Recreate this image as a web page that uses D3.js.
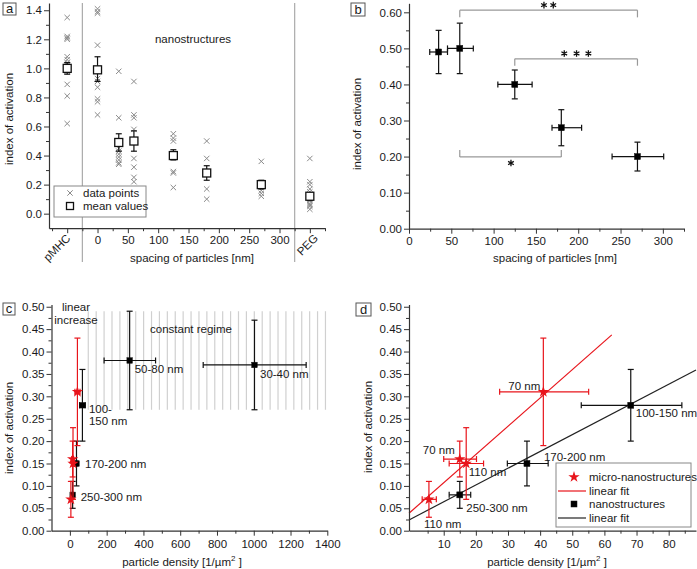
<!DOCTYPE html>
<html><head><meta charset="utf-8">
<script src="https://cdn.jsdelivr.net/npm/d3@7"></script>
<style>
body{margin:0;background:#fff;}
svg{display:block;}
</style></head><body>
<svg id="chart" width="697" height="569"></svg>
<script>
// ---------- Panel a data ----------
const groupsA = [-50, 0, 35, 60, 125, 180, 270, 350];
const groupNamesA = ["pMHC", "0", "35", "60", "125", "180", "270", "PEG"];
const ticksA = [-50, 0, 50, 100, 150, 200, 250, 300, 350];
const pointsA = [
  [1.35,1.22,1.21,1.20,1.08,1.06,1.04,1.02,1.00,0.98,0.89,0.81,0.62],
  [1.41,1.39,1.38,1.16,0.93,0.91,0.87,0.79,0.77,0.68],
  [0.98,0.66,0.45,0.43,0.41,0.39,0.37,0.35,0.34],
  [0.91,0.68,0.66,0.58,0.38,0.32,0.25,0.22],
  [0.55,0.52,0.50,0.29,0.28,0.18],
  [0.50,0.38,0.17,0.10],
  [0.36,0.21,0.19,0.16,0.14,0.12],
  [0.38,0.22,0.20,0.17,0.15,0.13,0.11,0.09,0.07,0.06,0.05,0.03]
];
const meanA  = [1.00,0.99,0.49,0.50,0.40,0.28,0.20,0.12];
const errHiA = [1.04,1.08,0.55,0.57,0.44,0.33,0.23,0.14];
const errLoA = [0.96,0.91,0.43,0.43,0.37,0.23,0.17,0.09];
const separatorsA = [-25, 325];

// ---------- Panel b data ----------
const spacingB = [35, 60, 125, 180, 270];
const meanB = [0.49, 0.50, 0.40, 0.28, 0.20];
const yHiB = [0.55, 0.57, 0.44, 0.33, 0.24];
const yLoB = [0.43, 0.43, 0.36, 0.23, 0.16];
const xLoB = [24.5, 45.5, 105, 169, 240];
const xHiB = [45.5, 76, 145.5, 204, 301];
const bracketFromB = [60, 125, 60];
const bracketToB = [270, 270, 180];
const bracketYB = [0.606, 0.471, 0.199];
const bracketLegB = [0.586, 0.452, 0.218];
const bracketStarsXB = [[159.5, 170.5], [183.5, 198, 212], [120.5]];
const bracketStarsYB = [0.620, 0.486, 0.182];

// ---------- Panels c / d data ----------
const microX   = [5.4, 15, 17, 41];
const microY   = [0.07, 0.16, 0.15, 0.31];
const microXLo = [3.3, 10, 11.7, 27.4];
const microXHi = [7.7, 20.2, 22.4, 55.1];
const microYLo = [0.03, 0.12, 0.07, 0.19];
const microYHi = [0.11, 0.20, 0.23, 0.43];
const microLabels = ["110 nm", "70 nm", "110 nm", "70 nm"];

const nanoX   = [15, 35.9, 68.2, 325, 1004];
const nanoY   = [0.08, 0.15, 0.28, 0.38, 0.37];
const nanoXLo = [11.7, 29.8, 52.8, 186, 725];
const nanoXHi = [18.4, 42.5, 84.1, 466, 1285];
const nanoYLo = [0.05, 0.10, 0.20, 0.27, 0.27];
const nanoYHi = [0.11, 0.20, 0.36, 0.49, 0.47];
const nanoLabels = ["250-300 nm", "170-200 nm", "100-150 nm", "50-80 nm", "30-40 nm"];

const fitMicro = {intercept: 0.044, slope: 0.00631, xMax: 62.3};
const fitNano  = {intercept: 0.027, slope: 0.00375};
const constantRegimeX = [100, 1390];
const constantRegimeY = [0.27, 0.49];

// ---------- drawing ----------
const FONT = '"Liberation Sans", Arial, Helvetica, sans-serif';
const RED = "#e8141b";
const svg = d3.select("#chart");
svg.append("rect").attr("width", 697).attr("height", 569).attr("fill", "#fff");

function styleAxis(g, fs) {
  g.select(".domain").attr("stroke", "#333").attr("stroke-width", 1.2);
  g.selectAll(".tick line").attr("stroke", "#333").attr("stroke-width", 1);
  g.selectAll(".tick text").attr("font-family", FONT).attr("font-size", fs || 11.5).attr("fill", "#1a1a1a");
}
function drawAxes(x, y, o) {
  const y0 = y.range()[0], x0 = x.range()[0];
  const gx = svg.append("g").attr("transform", `translate(0,${y0})`)
    .call(d3.axisBottom(x).tickValues(o.xMajor).tickFormat(o.xFmt).tickSize(5).tickSizeOuter(0).tickPadding(o.xPad || 3));
  styleAxis(gx);
  const gxm = svg.append("g").attr("transform", `translate(0,${y0})`)
    .call(d3.axisBottom(x).tickValues(o.xMinor).tickFormat("").tickSize(3).tickSizeOuter(0));
  gxm.select(".domain").remove(); styleAxis(gxm);
  const gy = svg.append("g").attr("transform", `translate(${x0},0)`)
    .call(d3.axisLeft(y).tickValues(o.yMajor).tickFormat(o.yFmt).tickSize(5).tickSizeOuter(0).tickPadding(2));
  styleAxis(gy);
  const gym = svg.append("g").attr("transform", `translate(${x0},0)`)
    .call(d3.axisLeft(y).tickValues(o.yMinor).tickFormat("").tickSize(3).tickSizeOuter(0));
  gym.select(".domain").remove(); styleAxis(gym);
  return gx;
}
function text(x, y, s, o) {
  o = o || {};
  const t = svg.append("text").attr("x", x).attr("y", y).text(s)
    .attr("font-family", FONT).attr("font-size", o.fs || 11.5).attr("fill", o.fill || "#1a1a1a")
    .attr("text-anchor", o.anchor || "start");
  if (o.rotate) t.attr("transform", `rotate(${o.rotate},${x},${y})`);
  return t;
}
function yTitle(cx, cy) {
  text(cx, cy, "index of activation", {anchor: "middle", rotate: -90}).attr("dy", "0.35em");
}
function densityTitle(cx, by) {
  const t = text(cx, by, "particle density [1/µm", {anchor: "middle"});
  t.append("tspan").text("2").attr("font-size", 8).attr("dy", -5);
  t.append("tspan").text(" ]").attr("dy", 5);
}
function panelTag(x, y, w, h, s) {
  svg.append("rect").attr("x", x).attr("y", y).attr("width", w).attr("height", h)
    .attr("fill", "#fff").attr("stroke", "#555").attr("stroke-width", 1);
  text(x + w / 2, y + h - 2.5, s, {anchor: "middle", fs: 13});
}
function line(x1, y1, x2, y2, color, w) {
  svg.append("line").attr("x1", x1).attr("y1", y1).attr("x2", x2).attr("y2", y2)
    .attr("stroke", color).attr("stroke-width", w || 1.2);
}
function errBar(px, py, pxlo, pxhi, pylo, pyhi, color, cap) {
  cap = cap || 3;
  if (pylo !== null) {
    line(px, pylo, px, pyhi, color);
    line(px - cap, pylo, px + cap, pylo, color);
    line(px - cap, pyhi, px + cap, pyhi, color);
  }
  if (pxlo !== null) {
    line(pxlo, py, pxhi, py, color);
    line(pxlo, py - cap, pxlo, py + cap, color);
    line(pxhi, py - cap, pxhi, py + cap, color);
  }
}
function cross(px, py, r, color) {
  line(px - r, py - r, px + r, py + r, color, 1);
  line(px - r, py + r, px + r, py - r, color, 1);
}
function star(px, py, size) {
  svg.append("path").attr("d", d3.symbol(d3.symbolStar, size || 34)())
    .attr("transform", `translate(${px},${py})`).attr("fill", RED);
}
function sq(px, py, s, fill) {
  svg.append("rect").attr("x", px - s / 2).attr("y", py - s / 2).attr("width", s).attr("height", s)
    .attr("fill", fill).attr("stroke", "#111").attr("stroke-width", fill === "#fff" ? 1.3 : 0.5);
}

// ================= Panel a =================
{
  const x = d3.scaleLinear().domain([-80, 375]).range([49, 325]);
  const y = d3.scaleLinear().domain([-0.1, 1.45]).range([228.2, 3]);
  separatorsA.forEach(v => line(x(v), 3, x(v), 262, "#aaa", 1.2));
  drawAxes(x, y, {
    xMajor: ticksA, xMinor: d3.range(-75, 376, 50),
    xFmt: d => (d < 0 || d > 300) ? "" : d,
    yMajor: d3.range(0, 1.41, 0.2), yMinor: d3.range(0.1, 1.45, 0.2),
    yFmt: d3.format(".1f")
  });
  const rotOff = {"-50": 4, "350": 9};
  [0, groupsA.length - 1].forEach(i => {
    const g = groupsA[i];
    text(x(g) + rotOff[g], 239, groupNamesA[i], {anchor: "end", rotate: -45});
  });
  groupsA.forEach((g, i) => pointsA[i].forEach(v => cross(x(g), y(v), 2.7, "#8a8a8a")));
  groupsA.forEach((g, i) => {
    errBar(x(g), y(meanA[i]), null, null, y(errLoA[i]), y(errHiA[i]), "#111", 3);
    sq(x(g), y(meanA[i]), 8, "#fff");
  });
  text(193, 43, "nanostructures", {anchor: "middle"});
  text(192, 262, "spacing of particles [nm]", {anchor: "middle"});
  yTitle(9, 119);
  svg.append("rect").attr("x", 54).attr("y", 186).attr("width", 92).attr("height", 31)
    .attr("fill", "#fff").attr("stroke", "#888").attr("stroke-width", 1);
  cross(70, 193, 2.7, "#8a8a8a");
  text(83, 197, "data points");
  sq(70, 206, 7, "#fff");
  text(83, 210, "mean values");
  panelTag(3, 3, 13, 12, "a");
}

// ================= Panel b =================
{
  const x = d3.scaleLinear().domain([0, 325]).range([409, 684]);
  const y = d3.scaleLinear().domain([0, 0.625]).range([228.7, 3.3]);
  drawAxes(x, y, {
    xMajor: d3.range(0, 301, 50), xMinor: d3.range(25, 326, 50), xFmt: d => d,
    yMajor: d3.range(0, 0.61, 0.1), yMinor: d3.range(0.05, 0.61, 0.1),
    yFmt: d3.format(".2f")
  });
  bracketFromB.forEach((f, i) => {
    const t = bracketToB[i];
    line(x(f), y(bracketYB[i]), x(t), y(bracketYB[i]), "#999", 1.2);
    line(x(f), y(bracketYB[i]), x(f), y(bracketLegB[i]), "#999", 1.2);
    line(x(t), y(bracketYB[i]), x(t), y(bracketLegB[i]), "#999", 1.2);
    bracketStarsXB[i].forEach(sx => {
      svg.append("path").attr("d", d3.symbol(d3.symbolAsterisk, 30)())
        .attr("transform", `translate(${x(sx)},${y(bracketStarsYB[i])})`)
        .attr("stroke", "#111").attr("stroke-width", 1.3).attr("fill", "none");
    });
  });
  spacingB.forEach((s, i) => {
    errBar(x(s), y(meanB[i]), x(xLoB[i]), x(xHiB[i]), y(yLoB[i]), y(yHiB[i]), "#111", 3);
    sq(x(s), y(meanB[i]), 6, "#000");
  });
  text(555, 262, "spacing of particles [nm]", {anchor: "middle"});
  yTitle(357, 124);
  panelTag(351, 3, 14, 13, "b");
}

// ================= Panel c =================
{
  const x = d3.scaleLinear().domain([-100, 1400]).range([51.5, 327.3]);
  const y = d3.scaleLinear().domain([0, 0.505]).range([530.7, 304.5]);
  const nH = 31;
  d3.range(nH).forEach(k => {
    const v = constantRegimeX[0] + k * (constantRegimeX[1] - constantRegimeX[0]) / (nH - 1);
    line(x(v), y(constantRegimeY[1]), x(v), y(constantRegimeY[0]), "#d0d0d0", 1.2);
  });
  drawAxes(x, y, {
    xMajor: d3.range(0, 1401, 200), xMinor: d3.range(100, 1401, 200), xFmt: d => d, xPad: 4,
    yMajor: d3.range(0, 0.501, 0.05), yMinor: d3.range(0.025, 0.5, 0.05),
    yFmt: d3.format(".2f")
  });
  nanoX.forEach((v, i) => {
    errBar(x(v), y(nanoY[i]), x(nanoXLo[i]), x(nanoXHi[i]), y(nanoYLo[i]), y(nanoYHi[i]), "#111", 3);
    sq(x(v), y(nanoY[i]), 5.5, "#000");
  });
  microX.forEach((v, i) => {
    errBar(x(v), y(microY[i]), x(microXLo[i]), x(microXHi[i]), y(microYLo[i]), y(microYHi[i]), RED, 3);
    star(x(v), y(microY[i]), 40);
  });
  const offC = [[8, 6], [8.5, 4], [6.5, 8], [5, 13], [5.5, 13]];
  nanoLabels.forEach((s, i) => {
    const px = x(nanoX[i]) + offC[i][0], py = y(nanoY[i]) + offC[i][1];
    if (i === 2) {
      const parts = s.split("-");
      text(px, py, parts[0] + "-");
      text(px, py + 12, parts[1]);
    } else text(px, py, s);
  });
  text(76, 310.5, "linear", {anchor: "middle"});
  text(76, 324, "increase", {anchor: "middle"});
  text(191, 333, "constant regime", {anchor: "middle"});
  densityTitle(182, 566);
  yTitle(9, 428);
  panelTag(3, 303, 12, 12, "c");
}

// ================= Panel d =================
{
  const x = d3.scaleLinear().domain([-0.8, 88.5]).range([409, 696]);
  const y = d3.scaleLinear().domain([0, 0.505]).range([530.7, 304.5]);
  const xMin = x.domain()[0], xMax = x.domain()[1];
  line(x(xMin), y(fitMicro.intercept + fitMicro.slope * xMin),
       x(fitMicro.xMax), y(fitMicro.intercept + fitMicro.slope * fitMicro.xMax), RED, 1.2);
  line(x(xMin), y(fitNano.intercept + fitNano.slope * xMin),
       x(xMax), y(fitNano.intercept + fitNano.slope * xMax), "#222", 1.2);
  drawAxes(x, y, {
    xMajor: d3.range(10, 81, 10), xMinor: d3.range(5, 86, 10), xFmt: d => d, xPad: 4,
    yMajor: d3.range(0, 0.501, 0.05), yMinor: d3.range(0.025, 0.5, 0.05),
    yFmt: d3.format(".2f")
  });
  const offNano = [[6.5, 17], [17, -3], [5, 12]];
  nanoX.forEach((v, i) => {
    if (v > xMax) return;
    errBar(x(v), y(nanoY[i]), x(nanoXLo[i]), x(nanoXHi[i]), y(nanoYLo[i]), y(nanoYHi[i]), "#111", 3);
    sq(x(v), y(nanoY[i]), 6, "#000");
    text(x(v) + offNano[i][0], y(nanoY[i]) + offNano[i][1], nanoLabels[i]);
  });
  const offMicro = [[-5, 29, "start"], [-5, -5, "end"], [2.5, 12, "start"], [-3, -2, "end"]];
  microX.forEach((v, i) => {
    errBar(x(v), y(microY[i]), x(microXLo[i]), x(microXHi[i]), y(microYLo[i]), y(microYHi[i]), RED, 3);
    star(x(v), y(microY[i]), 40);
    text(x(v) + offMicro[i][0], y(microY[i]) + offMicro[i][1], microLabels[i], {anchor: offMicro[i][2]});
  });
  svg.append("rect").attr("x", 556).attr("y", 463).attr("width", 135).attr("height", 64)
    .attr("fill", "#fff").attr("stroke", "#888").attr("stroke-width", 1);
  star(574, 477, 40);
  text(589, 481, "micro-nanostructures");
  line(558, 491, 586, 491, RED, 1.2);
  text(589, 495, "linear fit");
  sq(574, 504, 6, "#000");
  text(589, 508, "nanostructures");
  line(558, 518, 586, 518, "#222", 1.2);
  text(589, 522, "linear fit");
  densityTitle(547, 566);
  yTitle(368, 427);
  panelTag(356, 303, 15, 13, "d");
}
</script>
</body></html>
